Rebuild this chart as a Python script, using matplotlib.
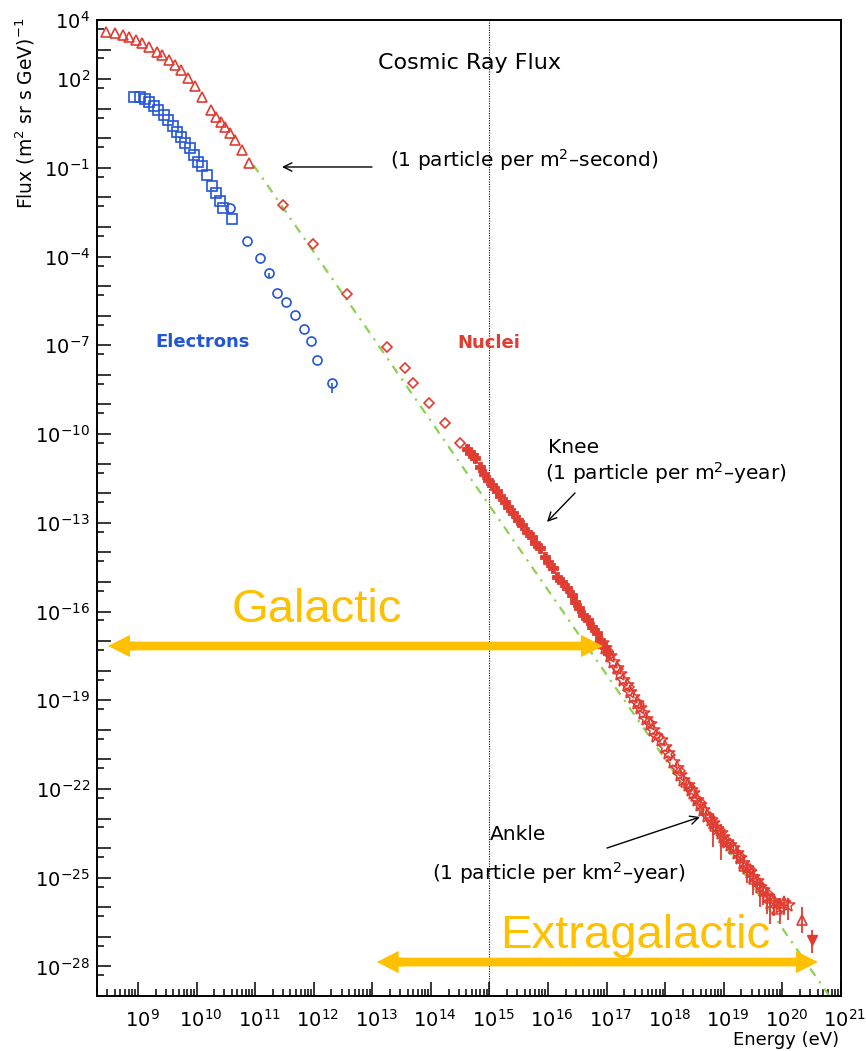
import numpy as np
import matplotlib
matplotlib.use('Agg')
import matplotlib.pyplot as plt
from matplotlib.patches import FancyArrowPatch
from matplotlib.transforms import ScaledTranslation

plt.rcParams['font.family'] = ['DejaVu Sans']
plt.rcParams['mathtext.default'] = 'regular'

RED = '#e03c32'
BLUE = '#2355d7'
GREEN = '#8ed152'
ORANGE = '#ffc000'

# all values are log10(E/eV) and log10(flux)
# low energy nuclei (open triangles)
nuc_lo_logE = [8.45, 8.60, 8.74, 8.85, 8.97, 9.07, 9.19, 9.32, 9.41, 9.53, 9.64, 9.74,
               9.85, 9.97, 10.09, 10.25, 10.33, 10.41, 10.49, 10.57, 10.66, 10.77, 10.90]
nuc_lo_logF = [3.60, 3.57, 3.49, 3.44, 3.32, 3.21, 3.10, 2.93, 2.82, 2.65, 2.48, 2.31,
               2.03, 1.78, 1.40, 0.96, 0.71, 0.56, 0.39, 0.17, -0.06, -0.40, -0.83]

# electrons, squares and circles
elec_sq_logE = [8.94, 9.04, 9.12, 9.19, 9.28, 9.35, 9.44, 9.51, 9.59, 9.67, 9.74,
                9.81, 9.88, 9.95, 10.02, 10.10, 10.18, 10.26, 10.33, 10.40, 10.46, 10.60]
elec_sq_logF = [1.41, 1.41, 1.32, 1.24, 1.09, 0.96, 0.80, 0.62, 0.42, 0.22, 0.05,
                -0.17, -0.34, -0.56, -0.79, -0.95, -1.25, -1.60, -1.85, -2.12, -2.35, -2.72]
elec_ci_logE = [10.575, 10.86, 11.075, 11.23, 11.37, 11.53, 11.68, 11.84, 11.95, 12.06, 12.31]
elec_ci_logF = [-2.36, -3.46, -4.04, -4.54, -5.24, -5.54, -5.97, -6.46, -6.85, -7.49, -8.26]
elec_ci_errlo = [0, 0, 0, 0.2, 0, 0, 0, 0, 0, 0, 0.35]

# nuclei, direct measurements (open diamonds)
nuc_dia_logE = [11.48, 11.99, 12.57, 13.25, 13.56, 13.70, 13.97, 14.24, 14.50]
nuc_dia_logF = [-2.25, -3.57, -5.26, -7.05, -7.76, -8.27, -8.95, -9.62, -10.30]

# knee region (filled)
knee_logE = [14.62, 14.67, 14.72, 14.76, 14.83, 14.91, 14.98, 15.05, 15.12, 15.18, 15.27,
             15.32, 15.41, 15.49, 15.56, 15.64, 15.73, 15.78, 15.86, 15.95, 16.00, 16.08,
             16.15, 16.24, 16.33, 16.41, 16.46, 16.53, 16.60, 16.68, 16.75, 16.84, 16.89,
             16.97, 17.03]
knee_logF = [-10.50, -10.64, -10.72, -10.81, -11.10, -11.35, -11.55, -11.72, -11.92, -12.09,
             -12.29, -12.46, -12.67, -12.90, -13.07, -13.31, -13.48, -13.68, -13.85, -14.15,
             -14.32, -14.53, -14.83, -15.00, -15.20, -15.44, -15.68, -15.88, -16.12, -16.28,
             -16.52, -16.72, -16.96, -17.20, -17.40]

# air shower data above the knee (open stars)
hi_logE = [16.92, 16.98, 17.05, 17.11, 17.17, 17.22, 17.28, 17.34, 17.40, 17.45, 17.51,
           17.57, 17.62, 17.68, 17.74, 17.79, 17.85, 17.92, 18.00, 18.05, 18.13, 18.20,
           18.26, 18.31, 18.38, 18.44, 18.48, 18.55, 18.60, 18.65, 18.72, 18.78, 18.82,
           18.88, 18.95, 18.99, 19.05, 19.10, 19.16, 19.22, 19.28, 19.33, 19.40, 19.45,
           19.50, 19.56, 19.62, 19.67, 19.73, 19.79, 19.86, 19.96, 20.03, 20.10]
hi_logF = [-17.07, -17.25, -17.50, -17.72, -17.92, -18.10, -18.30, -18.50, -18.72, -18.88,
           -19.08, -19.25, -19.42, -19.62, -19.82, -20.00, -20.22, -20.35, -20.58, -20.80,
           -21.10, -21.30, -21.52, -21.70, -21.88, -22.02, -22.15, -22.38, -22.55, -22.72,
           -22.92, -23.05, -23.15, -23.35, -23.50, -23.62, -23.78, -23.88, -23.98, -24.15,
           -24.35, -24.50, -24.68, -24.82, -24.97, -25.12, -25.30, -25.42, -25.62, -25.85,
           -25.80, -25.98, -25.85, -25.92]
hi_errlo = [0] * 28 + [0, 0.2, 0, 0.3, 0.8, 0.2, 0.9, 0.3, 0.2, 0.2, 0, 0.3,
                       0.2, 0.3, 0.5, 0.2, 0.6, 0.3, 0.7, 0.5, 0.6, 0.7, 0.5, 0.6, 0.4, 0.5]
hi_errhi = [0] * 28 + [0, 0.1, 0, 0.2, 0.3, 0.1, 0.3, 0.2, 0.1, 0.1, 0, 0.2,
                       0.1, 0.2, 0.2, 0.1, 0.3, 0.2, 0.3, 0.2, 0.3, 0.3, 0.2, 0.3, 0.2, 0.2]

# second air shower set (open diamonds)
hi2_logE = [17.02, 17.20, 17.38, 17.55, 17.72, 17.90, 18.08, 18.25, 18.42, 18.60,
            18.77, 18.93, 19.10, 19.27, 19.44, 19.60, 19.75, 19.92]
hi2_logF = [-17.35, -17.95, -18.55, -19.12, -19.72, -20.25, -20.85, -21.40, -21.92, -22.45,
            -22.95, -23.40, -23.85, -24.25, -24.70, -25.20, -25.55, -25.90]

# third set (open triangles)
hi3_logE = [18.35, 18.52, 18.68, 18.85, 19.02, 19.18, 19.35, 19.52, 19.68, 19.83, 19.90]
hi3_logF = [-21.75, -22.25, -22.70, -23.25, -23.75, -24.00, -24.60, -25.05, -25.45, -25.70, -26.05]

# highest energy points
top_up_logE, top_up_logF, top_up_err = [20.33], [-26.43], [(0.44, 0.44)]
top_dn_logE, top_dn_logF, top_dn_err = [20.50], [-27.10], [(0.44, 0.34)]

# E^-2.86 power law guide
fit_logE = [10.97, 20.80]
fit_logF = [-0.90, -29.00]

xtick_exps = list(range(9, 22))
ytick_exps = list(range(-29, 5))
ytick_labeled = [4, 2, -1, -4, -7, -10, -13, -16, -19, -22, -25, -28]


def p10(a):
    return np.power(10.0, np.asarray(a, dtype=float))


def log_err(logF, lo, hi):
    f = p10(logF)
    return np.vstack([f - f * p10(-np.asarray(lo, dtype=float)), f * p10(hi) - f])


fig = plt.figure(figsize=(8.66, 10.51), dpi=100)
ax = fig.add_axes([97 / 866, 55 / 1051, 744 / 866, 976 / 1051])
ax.set_xscale('log')
ax.set_yscale('log')

ax.axvline(1e15, color='black', lw=0.8, ls=(0, (1, 1.2)), zorder=1)
ax.plot(p10(fit_logE), p10(fit_logF), color=GREEN, lw=1.6, ls=(0, (4, 3, 1, 3)), zorder=2)

ax.plot(p10(nuc_lo_logE), p10(nuc_lo_logF), '^', ms=7.5, mfc='none', mec=RED, mew=1.2, zorder=3)
ax.plot(p10(elec_sq_logE), p10(elec_sq_logF), 's', ms=6.5, mfc='none', mec=BLUE, mew=1.2, zorder=3)
ax.errorbar(p10(elec_ci_logE), p10(elec_ci_logF),
            yerr=log_err(elec_ci_logF, elec_ci_errlo, [0] * len(elec_ci_logF)),
            fmt='o', ms=6.5, mfc='none', mec=BLUE, mew=1.2, ecolor=BLUE, elinewidth=1.2,
            capsize=0, zorder=3)
ax.plot(p10(nuc_dia_logE), p10(nuc_dia_logF), 'D', ms=5.5, mfc='none', mec=RED, mew=1.2, zorder=3)
ax.plot(p10(knee_logE), p10(knee_logF), 'P', ms=7, mfc=RED, mec=RED, mew=0.6, zorder=3)
ax.errorbar(p10(hi_logE), p10(hi_logF), yerr=log_err(hi_logF, hi_errlo, hi_errhi),
            fmt='*', ms=10, mfc='none', mec=RED, mew=1.1, ecolor=RED, elinewidth=1.3,
            capsize=0, zorder=3)
ax.plot(p10(hi2_logE), p10(hi2_logF), 'D', ms=5, mfc='none', mec=RED, mew=1.1, zorder=3)
ax.plot(p10(hi3_logE), p10(hi3_logF), '^', ms=6.5, mfc='none', mec=RED, mew=1.1, zorder=3)
ax.errorbar(p10(top_up_logE), p10(top_up_logF),
            yerr=log_err(top_up_logF, [e[0] for e in top_up_err], [e[1] for e in top_up_err]),
            fmt='^', ms=7.5, mfc='none', mec=RED, mew=1.2, ecolor=RED, elinewidth=1.3, capsize=0, zorder=3)
ax.errorbar(p10(top_dn_logE), p10(top_dn_logF),
            yerr=log_err(top_dn_logF, [e[0] for e in top_dn_err], [e[1] for e in top_dn_err]),
            fmt='v', ms=6.5, mfc=RED, mec=RED, mew=1.0, ecolor=RED, elinewidth=1.3, capsize=0, zorder=3)

# axes, ticks
for sp in ax.spines.values():
    sp.set_linewidth(1.4)
ax.set_xticks(p10(xtick_exps), labels=[f'$10^{{{k}}}$' for k in xtick_exps])
ax.set_xticks([m * 10.0 ** k for k in range(8, 21) for m in range(2, 10)
               if 2e8 <= m * 10.0 ** k <= 1e21], minor=True)
ax.set_yticks(p10(ytick_exps),
              labels=[f'$10^{{{k}}}$' if k in ytick_labeled else '' for k in ytick_exps])
ax.set_yticks([5 * 10.0 ** k for k in range(-30, 4)], minor=True)
ax.set_xlim(2e8, 1e21)
ax.set_ylim(1e-29, 1e4)
ax.tick_params(which='both', direction='in', top=False, right=False, labelsize=14)
ax.tick_params(which='major', length=10, width=1.1)
ax.tick_params(which='minor', length=5, width=1.1)
ax.tick_params(axis='x', pad=9)
ax.tick_params(axis='y', pad=5)
for lbl in ax.get_xticklabels():
    lbl.set_transform(lbl.get_transform() + ScaledTranslation(0.04, 0, fig.dpi_scale_trans))

ax.set_ylabel('Flux (m$^{2}$ sr s GeV)$^{-1}$', fontsize=13.5)
ax.yaxis.set_label_coords(-0.0968, 1.002)
ax.yaxis.label.set_horizontalalignment('right')
ax.yaxis.label.set_verticalalignment('center')
ax.set_xlabel('Energy (eV)', fontsize=13, loc='right')
ax.xaxis.set_label_coords(0.997, -0.036)

# labels and annotations
ax.text(0.5, 0.956, 'Cosmic Ray Flux', transform=ax.transAxes, ha='center', va='center', fontsize=16)
ax.text(0.078, 0.670, 'Electrons', transform=ax.transAxes, ha='left', va='center',
        fontsize=13, color=BLUE, fontweight='bold')
ax.text(0.485, 0.669, 'Nuclei', transform=ax.transAxes, ha='left', va='center',
        fontsize=13, color=RED, fontweight='bold')

arrow_kw = dict(arrowstyle='->', lw=1.0, color='black', shrinkA=0, shrinkB=0, mutation_scale=15)
ax.text(0.394, 0.8566, '(1 particle per m$^{2}$–second)', transform=ax.transAxes,
        ha='left', va='center', fontsize=14.5)
ax.annotate('', xy=(0.2487, 0.8494), xytext=(0.3696, 0.8494), xycoords='axes fraction',
            arrowprops=arrow_kw)

ax.text(0.606, 0.5615, 'Knee', transform=ax.transAxes, ha='left', va='center', fontsize=14.5)
ax.text(0.602, 0.5359, '(1 particle per m$^{2}$–year)', transform=ax.transAxes,
        ha='left', va='center', fontsize=14.5)
ax.annotate('', xy=(0.6048, 0.4857), xytext=(0.6425, 0.5154), xycoords='axes fraction',
            arrowprops=arrow_kw)

ax.text(0.528, 0.165, 'Ankle', transform=ax.transAxes, ha='left', va='center', fontsize=14.5)
ax.text(0.450, 0.126, '(1 particle per km$^{2}$–year)', transform=ax.transAxes,
        ha='left', va='center', fontsize=14.5)
ax.annotate('', xy=(0.8105, 0.1834), xytext=(0.6855, 0.1516), xycoords='axes fraction',
            arrowprops=arrow_kw)


def span_arrow(x0, x1, y):
    # right-headed arrow starting inside the left head, plus a short head-only arrow
    style = 'simple,head_length=15.8,head_width=16,tail_width=6.3'
    for xs, xe in ((x0 + 0.022, x1), (x0 + 0.035, x0)):
        ax.add_patch(FancyArrowPatch((xs, y), (xe, y), transform=ax.transAxes,
                                     arrowstyle=style, mutation_scale=1, lw=0,
                                     color=ORANGE, shrinkA=0, shrinkB=0,
                                     clip_on=False, zorder=5))


span_arrow(0.0148, 0.680, 0.3586)
span_arrow(0.376, 0.969, 0.0348)
ax.text(0.1815, 0.3832, 'Galactic', transform=ax.transAxes, ha='left', va='baseline',
        fontsize=34, color=ORANGE, family=['Liberation Sans'], zorder=5)
ax.text(0.5417, 0.0492, 'Extragalactic', transform=ax.transAxes, ha='left', va='baseline',
        fontsize=34, color=ORANGE, family=['Liberation Sans'], zorder=5)

fig.savefig('out.png', dpi=100)
